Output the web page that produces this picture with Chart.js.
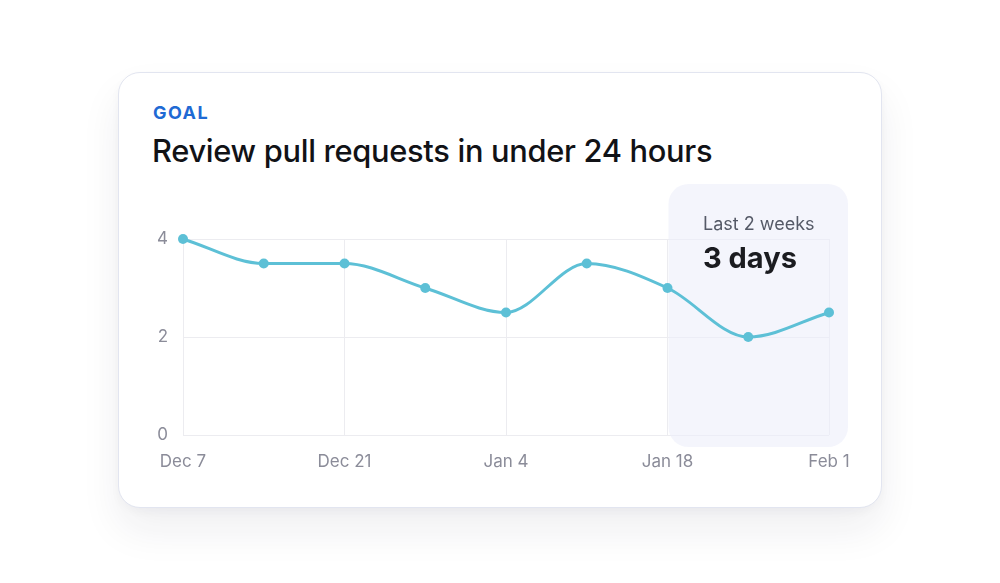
<!DOCTYPE html>
<html>
<head>
<meta charset="utf-8">
<script src="https://cdn.jsdelivr.net/npm/chart.js@4.4.1/dist/chart.umd.min.js"></script>
<style>
  html, body { margin: 0; padding: 0; background: #ffffff; width: 1000px; height: 583px; overflow: hidden; font-family: Inter, "Noto Sans", sans-serif; }
  .card { position: absolute; left: 118px; top: 72px; width: 762px; height: 434px; background: #fff; border: 1.5px solid #e2e5f0; border-radius: 22px; box-shadow: 0 22px 40px rgba(30,35,60,0.07), 0 4px 10px rgba(30,35,60,0.03); }
  .goal { position: absolute; left: 153px; top: 102px; font-size: 18px; font-weight: 700; letter-spacing: 1.5px; color: #1f6ad4; }
  .title { position: absolute; left: 152px; top: 132px; font-size: 30.8px; font-weight: 500; color: #111216; letter-spacing: -0.3px; }
  .chartwrap { position: absolute; left: 140px; top: 170px; width: 730px; height: 320px; }
  .hl1 { position: absolute; left: 703px; top: 213px; font-size: 18px; color: #555a67; }
  .hl2 { position: absolute; left: 703px; top: 240px; font-size: 29px; font-weight: 700; color: #1b1c20; }
</style>
</head>
<body>
<div class="card"></div>
<div class="goal">GOAL</div>
<div class="title">Review pull requests in under 24 hours</div>
<div class="chartwrap"><canvas id="c" width="730" height="320"></canvas></div>
<div class="hl1">Last 2 weeks</div>
<div class="hl2">3 days</div>
<script>
const categories = ["Dec 7", "Dec 14", "Dec 21", "Dec 28", "Jan 4", "Jan 11", "Jan 18", "Jan 25", "Feb 1"];
const values = [4, 3.5, 3.5, 3, 2.5, 3.5, 3, 2, 2.5];
const yTicks = [0, 2, 4];
const highlightFrom = 6;
const highlightTo = 8;

const highlightPlugin = {
  id: 'highlight',
  beforeDatasetsDraw(chart) {
    const ctx = chart.ctx, x = chart.scales.x, a = chart.chartArea;
    const l = x.getPixelForValue(highlightFrom) + 1;
    const r = x.getPixelForValue(highlightTo) + 19;
    const t = a.top - 55, b = a.bottom + 12;
    ctx.save();
    ctx.fillStyle = 'rgba(236,239,250,0.6)';
    ctx.beginPath();
    ctx.roundRect(l, t, r - l, b - t, 20);
    ctx.fill();
    ctx.restore();
  }
};

new Chart(document.getElementById('c'), {
  type: 'line',
  data: {
    labels: categories,
    datasets: [{
      data: values,
      borderColor: '#5dc0d6',
      backgroundColor: '#5dc0d6',
      borderWidth: 3,
      pointRadius: 5,
      pointBorderWidth: 0,
      pointBackgroundColor: '#5dc0d6',
      cubicInterpolationMode: 'monotone',
      clip: false
    }]
  },
  options: {
    responsive: false,
    animation: false,
    devicePixelRatio: 1,
    layout: { padding: { top: 69, right: 41, left: 0, bottom: 0 } },
    plugins: { legend: { display: false }, tooltip: { enabled: false } },
    scales: {
      x: {
        type: 'category',
        grid: { color: '#ececf0', lineWidth: 1, drawTicks: false },
        border: { display: false },
        ticks: {
          autoSkip: false, maxRotation: 0, padding: 17,
          color: '#8b8c99', font: { family: 'Inter', size: 17 },
          callback: function(v, i) { return i % 2 === 0 ? categories[i] : null; }
        },
        afterFit(s) { s.height = 55; }
      },
      y: {
        min: 0, max: 4,
        afterBuildTicks(s) { s.ticks = yTicks.map(v => ({ value: v })); },
        grid: { color: '#ececf0', lineWidth: 1, drawTicks: false },
        border: { display: false },
        ticks: { padding: 15, color: '#8b8c99', font: { family: 'Inter', size: 17 } },
        afterFit(s) { s.width = 43; }
      }
    }
  },
  plugins: [highlightPlugin]
});
</script>
</body>
</html>
